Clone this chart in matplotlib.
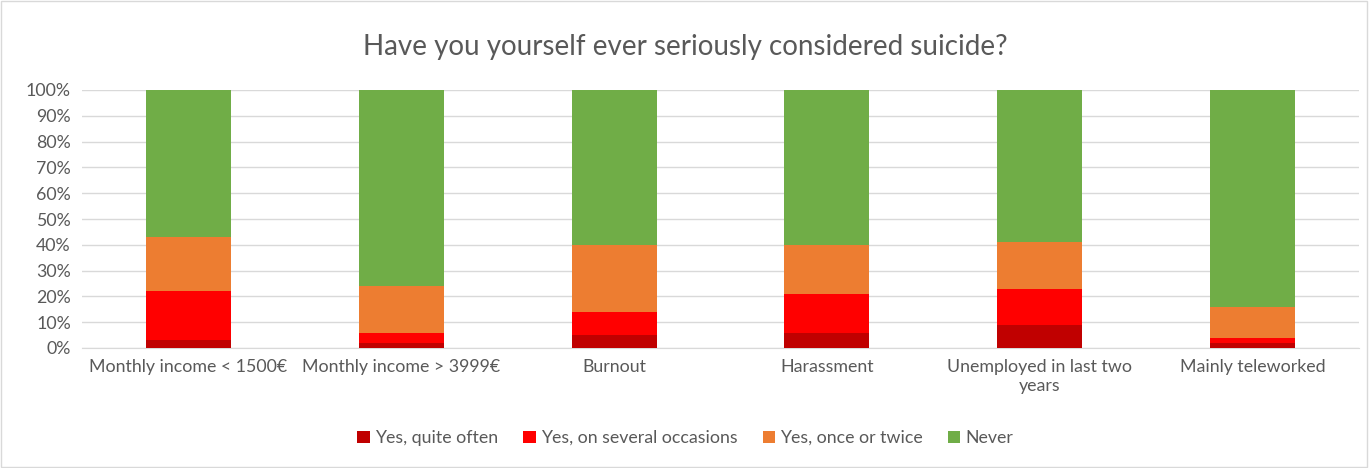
import matplotlib.pyplot as plt
import numpy as np

categories = ["Monthly income < 1500€", "Monthly income > 3999€", "Burnout",
              "Harassment", "Unemployed in last two\nyears", "Mainly teleworked"]
quite_often = [3, 2, 5, 6, 9, 2]
several = [19, 4, 9, 15, 14, 2]
once_twice = [21, 18, 26, 19, 18, 12]
never = [100 - a - b - c for a, b, c in zip(quite_often, several, once_twice)]

series = [("Yes, quite often", quite_often, "#C00000"),
          ("Yes, on several occasions", several, "#FF0000"),
          ("Yes, once or twice", once_twice, "#ED7D31"),
          ("Never", never, "#70AD47")]

plt.rcParams['font.family'] = ['Lato', 'DejaVu Sans']
txt = "#595959"

fig = plt.figure(figsize=(13.71, 4.68), dpi=100)
ax = fig.add_axes([82 / 1371, 1 - 348 / 468, 1277 / 1371, 258 / 468])

x = np.arange(len(categories))
bottom = np.zeros(len(categories))
for name, vals, col in series:
    ax.bar(x, vals, 0.4, bottom=bottom, color=col, label=name, zorder=3)
    bottom += np.array(vals)

ax.set_xlim(-0.5, len(categories) - 0.5)
ax.set_ylim(0, 100)
ax.set_yticks(range(0, 101, 10))
ax.set_yticklabels([f"{v}%" for v in range(0, 101, 10)], fontsize=12.8, color=txt)
ax.set_xticks(x)
ax.set_xticklabels(categories, fontsize=12.8, color=txt, va="top")
ax.tick_params(length=0, pad=8)
ax.grid(axis="y", color="#D9D9D9", linewidth=1, zorder=0)
for s in ["top", "right", "left"]:
    ax.spines[s].set_visible(False)
ax.spines["bottom"].set_color("#D9D9D9")

fig.text(0.5, 1 - 47 / 468, "Have you yourself ever seriously considered suicide?",
         ha="center", va="center", fontsize=20, color=txt)

fig.legend(loc="center", bbox_to_anchor=(0.5, 1 - 438 / 468), ncol=4, frameon=False,
           fontsize=12.8, handlelength=0.7, handleheight=0.7, columnspacing=1.4,
           handletextpad=0.3, labelcolor=txt)

fig.patches.append(plt.Rectangle((0.001, 0.003), 0.996, 0.994, transform=fig.transFigure,
                                 fill=False, edgecolor="#D9D9D9", linewidth=1))

fig.savefig("out.png", dpi=100)
